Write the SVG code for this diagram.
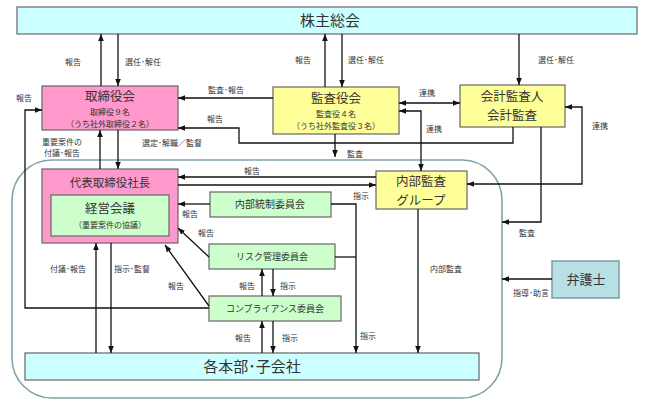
<svg xmlns="http://www.w3.org/2000/svg" width="647" height="419" viewBox="0 0 647 419">
<defs>
<marker id="ah" viewBox="0 0 10 10" refX="10" refY="5" markerWidth="7" markerHeight="7" markerUnits="userSpaceOnUse" orient="auto-start-reverse"><path d="M0,1 L10,5 L0,9 z" fill="#111"/></marker>
<style>
text{font-family:"Noto Sans CJK JP","Noto Sans CJK SC",sans-serif;fill:#333;text-anchor:middle}
.box{stroke:#666;stroke-width:1.2}
.cyan{fill:#CCFFFF}.pink{fill:#FF99CC}.yel{fill:#FFFF99}.grn{fill:#CCFFCC}.law{fill:#B8E0E4;stroke:#7A9EA6;stroke-width:1.5}
.t15{font-size:15px}.t13{font-size:13px}.t12{font-size:12.5px}.t11{font-size:11.5px}.t10{font-size:10px}.t9{font-size:9px}.t8{font-size:8px}
.lbl{font-size:8px;fill:#333}
#connectors path,#connectors line{fill:none;stroke:#111;stroke-width:1.3}
.a{marker-end:url(#ah)}.b{marker-start:url(#ah);marker-end:url(#ah)}
</style>
</defs>
<rect x="0" y="0" width="647" height="419" fill="#fff"/>
<g id="enclosure"><rect x="12" y="160" width="490" height="238" rx="40" ry="40" fill="none" stroke="#7FA4AA" stroke-width="1.6"/></g>
<g id="shareholders"><rect class="box cyan" x="17" y="7" width="620" height="27"/><text class="t15" x="330" y="26">株主総会</text></g>
<g id="board"><rect class="box pink" x="42" y="86" width="136" height="44"/><text class="t12" x="110" y="101">取締役会</text><text class="t8" x="110" y="115">取締役９名</text><text class="t8" x="110" y="127">（うち社外取締役２名）</text></g>
<g id="auditboard"><rect class="box yel" x="273" y="87" width="126" height="47"/><text class="t12" x="336" y="103">監査役会</text><text class="t8" x="336" y="117">監査役４名</text><text class="t8" x="336" y="129">（うち社外監査役３名）</text></g>
<g id="accountant"><rect class="box yel" x="460" y="85" width="105" height="42"/><text class="t12" x="512" y="101">会計監査人</text><text class="t12" x="512" y="120">会計監査</text></g>
<g id="president"><rect class="box pink" x="42" y="169" width="136" height="74"/><text class="t11" x="110" y="187">代表取締役社長</text></g>
<g id="mgmt"><rect class="box grn" x="51" y="195" width="118" height="41"/><text class="t12" x="110" y="213">経営会議</text><text class="t8" x="110" y="228">（重要案件の協議）</text></g>
<g id="internalaudit"><rect class="box yel" x="376" y="171" width="91" height="38"/><text class="t12" x="421" y="186">内部監査</text><text class="t12" x="421" y="205">グループ</text></g>
<g id="icc"><rect class="box grn" x="210" y="192" width="121" height="25"/><text class="t10" x="270" y="208">内部統制委員会</text></g>
<g id="risk"><rect class="box grn" x="209" y="244" width="126" height="25"/><text class="t9" x="272" y="260">リスク管理委員会</text></g>
<g id="compliance"><rect class="box grn" x="209" y="296" width="132" height="25"/><text class="t9" x="275" y="312">コンプライアンス委員会</text></g>
<g id="divisions"><rect class="box cyan" x="25" y="353" width="454" height="27"/><text class="t15" x="252" y="372">各本部･子会社</text></g>
<g id="lawyer"><rect class="law" x="552" y="261" width="67" height="37"/><text class="t13" x="586" y="284">弁護士</text></g>
<g id="connectors">
<line class="a" x1="101" y1="86" x2="101" y2="34"/>
<line class="a" x1="118" y1="34" x2="118" y2="86"/>
<line class="a" x1="325" y1="87" x2="325" y2="34"/>
<line class="a" x1="342" y1="34" x2="342" y2="87"/>
<line class="a" x1="519" y1="34" x2="519" y2="85"/>
<line class="a" x1="273" y1="98" x2="178" y2="98"/>
<path class="a" d="M513,127 V143 H239 V128 H178"/>
<line class="b" x1="399" y1="103" x2="460" y2="103"/>
<path class="b" d="M399,111 H421 V171"/>
<line class="a" x1="335" y1="134" x2="335" y2="157"/>
<path class="a" d="M541,127 V222 H502"/>
<path class="b" d="M565,107 H582 V184 H467"/>
<line class="a" x1="100" y1="169" x2="100" y2="130"/>
<line class="a" x1="118" y1="130" x2="118" y2="169"/>
<path class="a" d="M209,308 H25 V110 H42"/>
<line class="a" x1="376" y1="177" x2="178" y2="177"/>
<line class="a" x1="178" y1="185" x2="376" y2="185"/>
<line class="a" x1="210" y1="204" x2="178" y2="204"/>
<line class="a" x1="209" y1="257" x2="178" y2="228"/>
<line class="a" x1="209" y1="306" x2="165" y2="245"/>
<line class="a" x1="262" y1="296" x2="262" y2="269"/>
<line class="a" x1="273" y1="269" x2="273" y2="296"/>
<line class="a" x1="262" y1="353" x2="262" y2="321"/>
<line class="a" x1="273" y1="321" x2="273" y2="353"/>
<line class="a" x1="96" y1="353" x2="96" y2="243"/>
<line class="a" x1="111" y1="243" x2="111" y2="353"/>
<path class="a" d="M331,204 H356 V353"/>
<line x1="335" y1="257" x2="356" y2="257"/>
<line class="a" x1="418" y1="209" x2="418" y2="353"/>
<line class="a" x1="552" y1="279" x2="502" y2="279"/>
</g>
<g id="labels">
<text class="lbl" x="73" y="65">報告</text>
<text class="lbl" x="143" y="65">選任･解任</text>
<text class="lbl" x="303" y="63">報告</text>
<text class="lbl" x="366" y="63">選任･解任</text>
<text class="lbl" x="556" y="63">選任･解任</text>
<text class="lbl" x="24" y="101">報告</text>
<text class="lbl" x="226" y="93">監査･報告</text>
<text class="lbl" x="215" y="122">報告</text>
<text class="lbl" x="427" y="96">連携</text>
<text class="lbl" x="434" y="132">連携</text>
<text class="lbl" x="600" y="129">連携</text>
<text class="lbl" x="355" y="157">監査</text>
<text class="lbl" x="62" y="145">重要案件の</text>
<text class="lbl" x="62" y="156">付議･報告</text>
<text class="lbl" x="172" y="146">選定･解職／監督</text>
<text class="lbl" x="252" y="174">報告</text>
<text class="lbl" x="361" y="199">指示</text>
<text class="lbl" x="190" y="217">報告</text>
<text class="lbl" x="206" y="236">報告</text>
<text class="lbl" x="176" y="289">報告</text>
<text class="lbl" x="247" y="289">報告</text>
<text class="lbl" x="288" y="289">指示</text>
<text class="lbl" x="243" y="341">報告</text>
<text class="lbl" x="290" y="341">指示</text>
<text class="lbl" x="368" y="339">指示</text>
<text class="lbl" x="68" y="272">付議･報告</text>
<text class="lbl" x="132" y="272">指示･監督</text>
<text class="lbl" x="446" y="272">内部監査</text>
<text class="lbl" x="527" y="236">監査</text>
<text class="lbl" x="531" y="296">指導･助言</text>
</g>
</svg>
